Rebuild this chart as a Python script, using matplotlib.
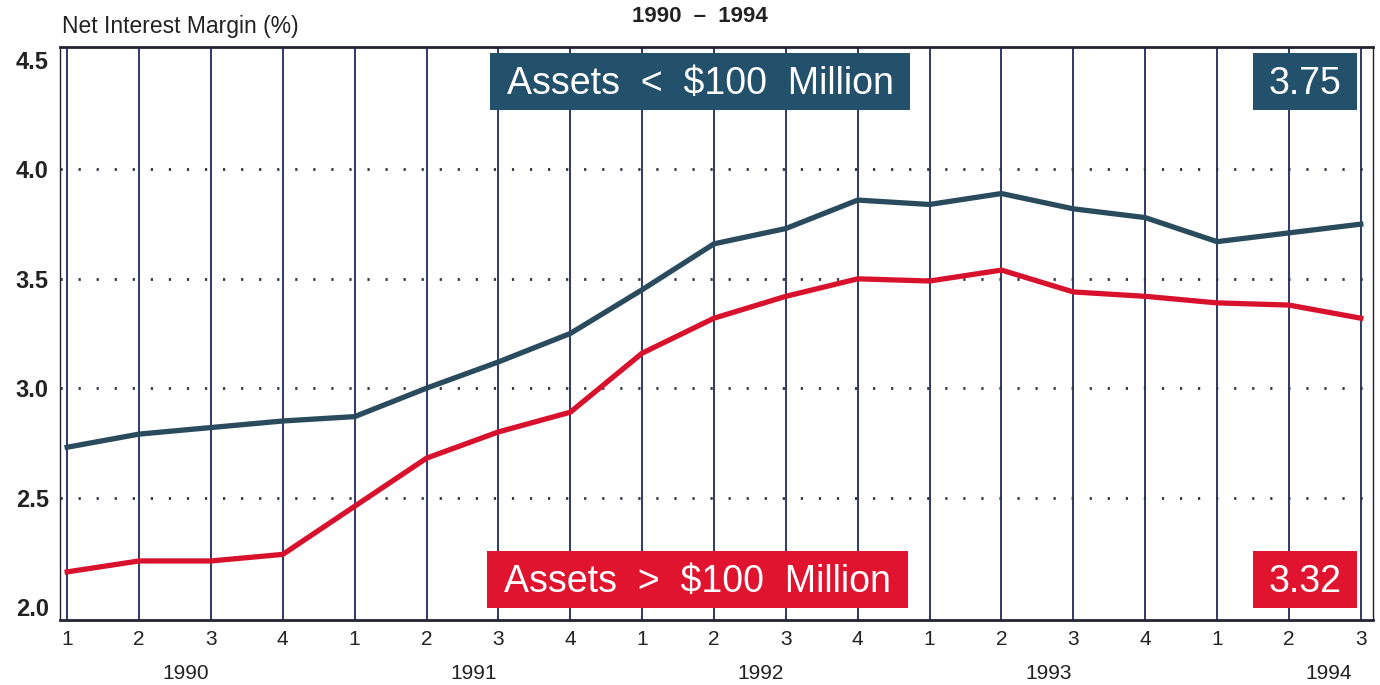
import matplotlib
matplotlib.use("Agg")
import matplotlib.pyplot as plt
from matplotlib.patches import Rectangle

plt.rcParams['font.family'] = ['Liberation Sans', 'DejaVu Sans']

quarters = ["1", "2", "3", "4", "1", "2", "3", "4", "1", "2", "3", "4",
            "1", "2", "3", "4", "1", "2", "3"]
years = ["1990", "1991", "1992", "1993", "1994"]
small_banks = [2.73, 2.79, 2.82, 2.85, 2.87, 3.00, 3.12, 3.25, 3.45, 3.66,
               3.73, 3.86, 3.84, 3.89, 3.82, 3.78, 3.67, 3.71, 3.75]
large_banks = [2.16, 2.21, 2.21, 2.24, 2.46, 2.68, 2.80, 2.89, 3.16, 3.32,
               3.42, 3.50, 3.49, 3.54, 3.44, 3.42, 3.39, 3.38, 3.32]
yticks = [2.0, 2.5, 3.0, 3.5, 4.0, 4.5]
small_label = "Assets  <  $100  Million"
large_label = "Assets  >  $100  Million"
small_last = "3.75"
large_last = "3.32"

BLUE = "#2a4a5e"
BLUE_BOX = "#23506a"
RED = "#d8122c"
RED_BOX = "#e0142e"
GRID = "#1e2a5a"

W, H = 1380, 685
fig = plt.figure(figsize=(W / 100, H / 100), dpi=100)
ax = fig.add_axes([60 / W, 1 - 620 / H, (1373 - 60) / W, (620 - 47) / H])

x = list(range(len(quarters)))
ax.set_xlim(-0.1, 18.17)
ax.set_ylim(1.94, 4.56)

# vertical grid lines
for xi in x:
    ax.axvline(xi, color=GRID, lw=1.3, zorder=1)
# dotted horizontal grid
for yv in yticks[1:-1]:
    ax.axhline(yv, color="#333344", lw=2.0, ls=(0, (0.8, 5.7)), zorder=1)

ax.plot(x, small_banks, color=BLUE, lw=3.8, zorder=3, solid_joinstyle='miter')
ax.plot(x, large_banks, color=RED, lw=3.8, zorder=3, solid_joinstyle='miter')

ax.set_yticks(yticks)
ax.set_yticklabels([f"{v:.1f}" for v in yticks], fontsize=17, fontweight='bold', color="#222222")
ax.set_xticks(x)
ax.set_xticklabels(quarters, fontsize=15, color="#222222")
ax.tick_params(axis='both', length=0)
ax.tick_params(axis='y', pad=8)
ax.tick_params(axis='x', pad=7)

for sp in ["top", "bottom"]:
    ax.spines[sp].set_linewidth(2.0)
    ax.spines[sp].set_color("#222233")
for sp in ["left", "right"]:
    ax.spines[sp].set_linewidth(1.0)
    ax.spines[sp].set_color("#222233")

# year labels
year_pos = [1.65, 5.65, 9.65, 13.65, 17.55]
for yr, xp in zip(years, year_pos):
    ax.text(xp, -0.093, yr, transform=ax.get_xaxis_transform(), ha='center', va='center',
            fontsize=15, color="#222222")

# titles
fig.text(62 / W, 1 - 27 / H, "Net Interest Margin (%)", fontsize=16.5, color="#222222",
         ha='left', va='center')
fig.text(700 / W, 1 - 17 / H, "1990  –  1994", fontsize=16, fontweight='bold', color="#222222",
         ha='center', va='center')


def box(x0, y0, x1, y1, color, label):
    fig.patches.append(Rectangle((x0 / W, 1 - y1 / H), (x1 - x0) / W, (y1 - y0) / H,
                                 transform=fig.transFigure, facecolor=color, edgecolor='none',
                                 zorder=5))
    fig.text((x0 + x1) / 2 / W, 1 - ((y0 + y1) / 2 + 3) / H, label, fontsize=27, color="white",
             ha='center', va='center', zorder=6)


box(490, 53, 910, 110, BLUE_BOX, small_label)
box(1253, 53, 1357, 110, BLUE_BOX, small_last)
box(487, 551, 908, 608, RED_BOX, large_label)
box(1253, 551, 1357, 608, RED_BOX, large_last)

fig.savefig("out.png", dpi=100)
